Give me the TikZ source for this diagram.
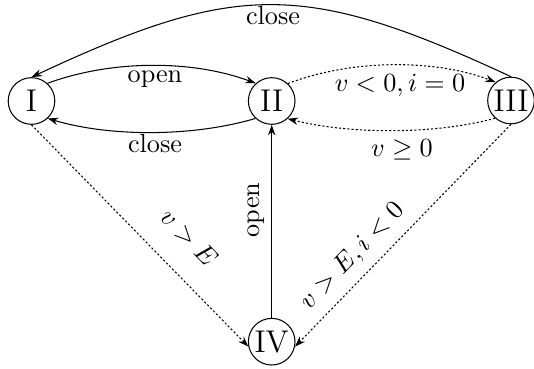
\documentclass[tikz,border=0pt]{standalone}
\usetikzlibrary{arrows.meta}
\begin{document}
\begin{tikzpicture}[x=0.3817pt,y=-0.3817pt,
  state/.style={draw,circle,inner sep=0pt,minimum size=17.8pt,font=\large},
  arr/.style={-{Stealth[length=4pt,width=2.8pt]},line width=0.4pt},
  dotarr/.style={arr,dash pattern=on 0.8pt off 0.8pt},
  lab/.style={inner sep=0pt}]
\useasboundingbox (0,0) rectangle (534,369);
\node[state] (I) at (31.5,101) {I};
\node[state] (II) at (271.7,101) {II};
\node[state] (III) at (511,100.5) {III};
\node[state] (IV) at (271.7,341.7) {IV};
% top close
\draw[arr] (III.north) .. controls (305,-19) and (237,-19) .. (I.north);
\node[lab,anchor=base] (lc1) at (273,24.5) {close};
% open I -> II
\draw[arr] (I.48) .. controls (112,59.7) and (192,59.7) .. (II.132);
\node[lab,anchor=base] (lo1) at (155,83) {open};
% close II -> I
\draw[arr] (II.227) .. controls (193,137) and (110,137) .. (I.313);
\node[lab,anchor=base] (lc2) at (155,153) {close};
% II -> III dotted
\draw[dotarr] (II.47) .. controls (352,59) and (435,59) .. (III.130);
\node[lab,anchor=base] (l3) at (400,91.7) {$v<0,i=0$};
% III -> II dotted
\draw[dotarr] (III.228) .. controls (434,135) and (348,134) .. (II.312);
\node[lab,anchor=base] (l4) at (402,156.5) {$v\geq 0$};
% IV -> II
\draw[arr] (IV) -- (II);
\node[lab,anchor=base,rotate=90] (lo2) at (259.5,210) {open};
% I -> IV, III -> IV
\draw[dotarr] (I.270) -- (IV.192);
\draw[dotarr] (III.270) -- (IV.348);
\node[lab,rotate=-46] (l5) at (189,237.5) {$v>E$};
\node[lab,rotate=46] (l6) at (352.5,256.5) {$v>E,i<0$};
\end{tikzpicture}
\end{document}
